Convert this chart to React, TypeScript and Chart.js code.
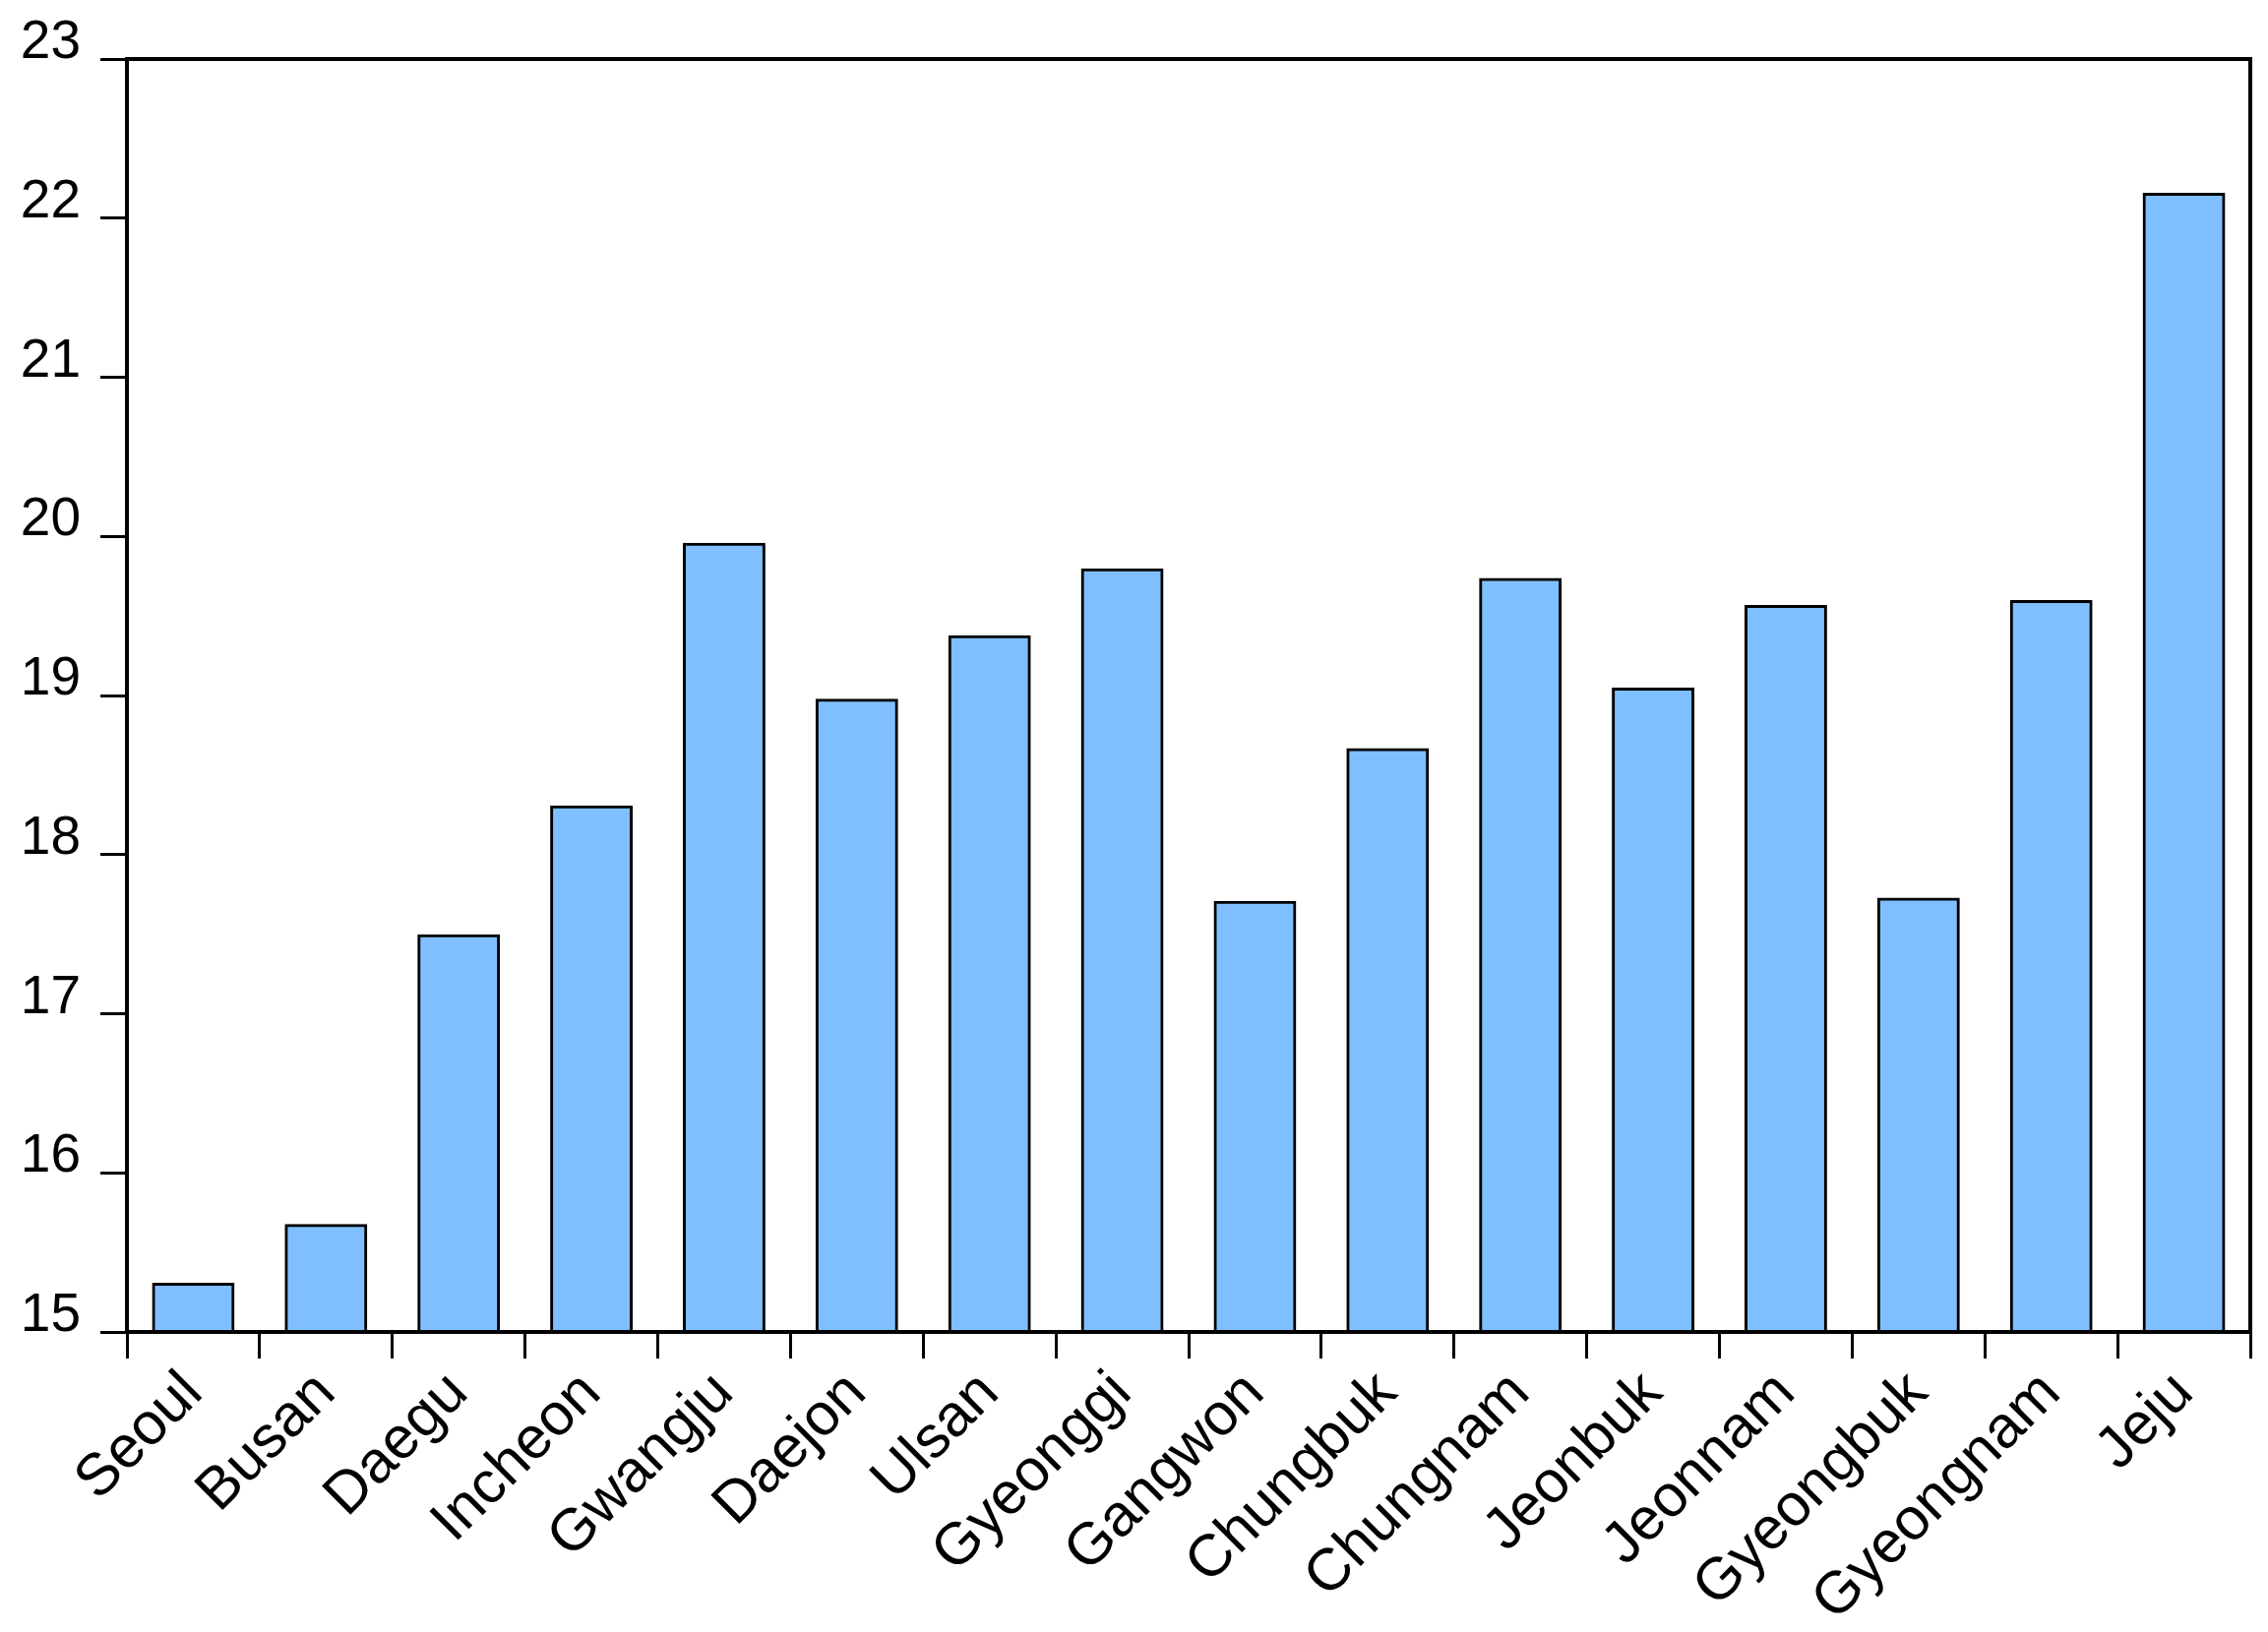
import React, { useEffect, useRef } from "react";
import { Chart, registerables } from "chart.js";

Chart.register(...registerables);

const categories: string[] = [
  "Seoul", "Busan", "Daegu", "Incheon", "Gwangju", "Daejon", "Ulsan", "Gyeonggi",
  "Gangwon", "Chungbuk", "Chungnam", "Jeonbuk", "Jeonnam", "Gyeongbuk", "Gyeongnam", "Jeju",
];

const values: number[] = [
  15.3, 15.67, 17.49, 18.3, 19.95, 18.97, 19.37, 19.79,
  17.7, 18.66, 19.73, 19.04, 19.56, 17.72, 19.59, 22.15,
];

const yMin = 15;
const yMax = 23;
const yStep = 1;

const FONT = "'Liberation Sans', Arial, Helvetica, sans-serif";

const frame = {
  id: "frame",
  afterDatasetsDraw(chart: any) {
    const { ctx, chartArea } = chart;
    ctx.save();
    ctx.strokeStyle = "#000";
    ctx.lineWidth = 4;
    ctx.strokeRect(chartArea.left, chartArea.top, chartArea.right - chartArea.left, chartArea.bottom - chartArea.top);
    ctx.restore();
  },
};

export default function App() {
  const ref = useRef<HTMLCanvasElement | null>(null);

  useEffect(() => {
    document.body.style.margin = "0";
    const canvas = ref.current;
    if (!canvas) return;
    const chart = new Chart(canvas, {
      type: "bar",
      data: {
        labels: categories,
        datasets: [
          {
            data: values,
            backgroundColor: "#80BFFF",
            borderColor: "#000",
            borderWidth: 3,
            borderSkipped: false,
            inflateAmount: 1.5,
            barPercentage: 0.6,
            categoryPercentage: 1,
          },
        ],
      },
      options: {
        responsive: false,
        animation: false,
        devicePixelRatio: 1,
        layout: { padding: { top: 60, right: 18, left: 0, bottom: 0 } },
        plugins: {
          legend: { display: false },
          tooltip: { enabled: false },
          title: { display: false },
        },
        scales: {
          x: {
            type: "category",
            offset: true,
            grid: {
              offset: true,
              drawOnChartArea: false,
              drawTicks: true,
              tickLength: 27,
              tickWidth: 3,
              tickColor: "#000",
            },
            border: { display: false },
            ticks: {
              autoSkip: false,
              maxRotation: 45,
              minRotation: 45,
              color: "#000",
              padding: 0,
              font: { family: FONT, size: 60 },
            },
            afterFit: (scale: any) => {
              scale.height = 305;
            },
          },
          y: {
            min: yMin,
            max: yMax,
            grid: {
              drawOnChartArea: false,
              drawTicks: true,
              tickLength: 27,
              tickWidth: 3,
              tickColor: "#000",
            },
            border: { display: false },
            ticks: {
              stepSize: yStep,
              color: "#000",
              padding: 20,
              labelOffset: -16,
              font: { family: FONT, size: 55 },
            },
            afterFit: (scale: any) => {
              scale.width = 129;
            },
          },
        },
      },
      plugins: [frame],
    });
    return () => chart.destroy();
  }, []);

  return (
    <div style={{ width: 2305, height: 1659, background: "#fff" }}>
      <canvas ref={ref} width={2305} height={1659} style={{ display: "block" }} />
    </div>
  );
}
